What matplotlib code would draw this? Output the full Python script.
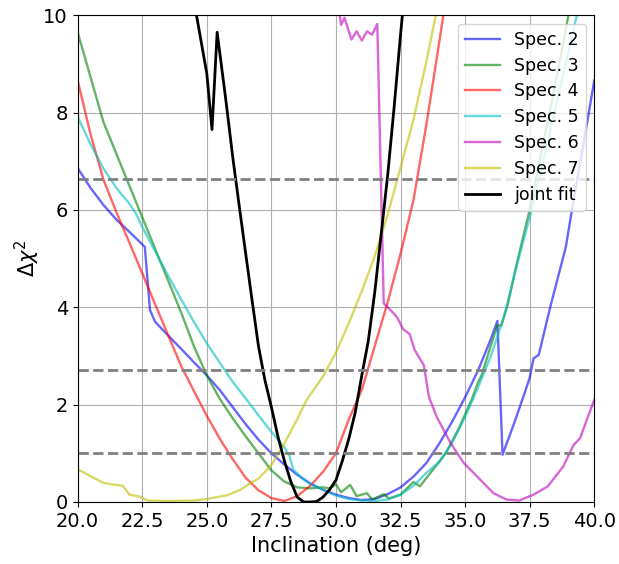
import matplotlib
matplotlib.use("Agg")
import matplotlib.pyplot as plt

# Spec. 2 (blue)
x2 = [20, 20.5, 21, 21.5, 22, 22.6, 22.8, 23.0, 23.5, 24, 24.5, 25, 25.5, 26, 26.5, 27, 27.5,
      28, 28.5, 29, 29.5, 30, 30.5, 31, 31.5, 32, 32.5, 33, 33.5, 34, 34.5, 35, 35.5, 36,
      36.25, 36.45, 36.9, 37.3, 37.5, 37.65, 37.85, 38.3, 38.9, 39.2, 39.6, 40]
y2 = [6.86, 6.45, 6.1, 5.8, 5.55, 5.24, 3.94, 3.7, 3.42, 3.15, 2.87, 2.6, 2.3, 1.95, 1.6, 1.28, 1.0,
      0.77, 0.56, 0.38, 0.25, 0.15, 0.08, 0.04, 0.06, 0.16, 0.3, 0.52, 0.8, 1.2, 1.65, 2.15, 2.7, 3.35,
      3.72, 0.97, 1.62, 2.23, 2.55, 2.95, 3.02, 4.01, 5.24, 6.2, 7.4, 8.66]

# Spec. 3 (green)
x3 = [20, 21, 23, 24, 24.5, 25, 25.5, 26, 26.5, 27, 27.5, 28, 28.5, 29, 29.5, 29.75, 30.0, 30.2,
      30.55, 30.8, 31.2, 31.4, 31.85, 32.05, 32.5, 33.0, 33.25, 33.75, 34.25, 34.75, 35.25, 35.5,
      35.65, 36.0, 36.25, 36.4, 36.65, 37.0, 37.5, 38.0, 38.5, 39.0, 39.5]
y3 = [9.65, 7.8, 5.2, 3.9, 3.2, 2.6, 2.12, 1.72, 1.35, 1.0, 0.65, 0.42, 0.3, 0.28, 0.3, 0.28, 0.36, 0.2,
      0.35, 0.12, 0.18, 0.05, 0.16, 0.07, 0.15, 0.41, 0.32, 0.66, 1.0, 1.5, 2.1, 2.45,
      2.62, 3.22, 3.63, 3.62, 4.05, 4.9, 6.0, 7.3, 8.6, 10.0, 11.3]

# Spec. 4 (red)
x4 = [20, 20.5, 21, 21.5, 22, 22.5, 23, 23.5, 24, 24.5, 25, 25.5, 26, 26.5, 27, 27.5, 28, 28.5,
      29, 29.5, 30, 30.5, 31, 31.5, 32, 32.5, 33, 33.5, 34, 34.5]
y4 = [8.66, 7.55, 6.62, 5.95, 5.33, 4.7, 4.06, 3.43, 2.8, 2.28, 1.77, 1.3, 0.88, 0.5, 0.24, 0.08, 0.02, 0.12,
      0.33, 0.62, 1.0, 1.7, 2.3, 3.2, 4.1, 5.1, 6.2, 7.75, 9.45, 11.2]

# Spec. 5 (cyan)
x5 = [20, 20.5, 21, 21.5, 22, 22.25, 22.5, 23, 23.5, 24, 24.5, 25, 25.5, 26, 26.5, 27, 27.5, 28,
      28.2, 28.35, 28.75, 29, 29.5, 30, 30.5, 31, 31.5, 32, 32.5, 33, 33.5, 34, 34.5, 35, 35.5,
      36, 36.5, 37, 37.5, 38, 38.5, 39, 39.5]
y5 = [7.91, 7.35, 6.85, 6.45, 6.13, 5.93, 5.65, 5.15, 4.65, 4.17, 3.7, 3.26, 2.86, 2.47, 2.13, 1.78, 1.44, 1.12,
      0.95, 0.66, 0.46, 0.37, 0.25, 0.13, 0.06, 0.03, 0.02, 0.05, 0.15, 0.33, 0.6, 0.82, 1.22, 1.75, 2.35,
      3.0, 3.8, 4.85, 5.85, 6.95, 8.1, 9.25, 10.4]

# Spec. 6 (magenta)
x6 = [30.0, 30.2, 30.33, 30.6, 30.8, 31.0, 31.2, 31.4, 31.6, 31.85, 32.1, 32.36, 32.6, 32.85, 33.05,
      33.4, 33.6, 33.9, 34.2, 34.45, 34.95, 35.47, 36.1, 36.6, 37.1, 37.65, 38.2, 38.8, 39.2, 39.45, 40.0]
y6 = [10.5, 9.8, 9.95, 9.5, 9.67, 9.48, 9.67, 9.6, 9.82, 4.08, 3.95, 3.8, 3.55, 3.45, 3.12,
      2.81, 2.16, 1.75, 1.45, 1.2, 0.8, 0.52, 0.18, 0.05, 0.03, 0.15, 0.32, 0.73, 1.17, 1.31, 2.1]

# Spec. 7 (yellow)
x7 = [20, 21, 21.75, 22.0, 22.4, 22.7, 23.5, 24.5, 25.0, 25.4, 25.8, 26.3, 26.7, 27.0, 27.5, 28.0,
      28.5, 28.85, 29.0, 29.5, 30.0, 30.5, 31.0, 31.5, 32.0, 32.5, 33.0, 33.5, 34.0]
y7 = [0.67, 0.39, 0.33, 0.15, 0.11, 0.03, 0.02, 0.03, 0.06, 0.1, 0.14, 0.25, 0.39, 0.48, 0.76, 1.2,
      1.7, 2.08, 2.2, 2.58, 3.07, 3.68, 4.33, 5.05, 5.9, 6.87, 7.85, 9.05, 10.35]

# joint fit (black)
xj = [24.4, 24.6, 25.0, 25.2, 25.4, 25.75, 26.0, 26.25, 26.5, 26.75, 27.0, 27.25, 27.5, 27.75, 28.0,
      28.25, 28.5, 28.75, 29.0, 29.25, 29.5, 29.75, 30.0, 30.25, 30.5, 30.75, 31.0, 31.25, 31.5,
      31.75, 32.0, 32.25, 32.5, 32.75]
yj = [10.9, 10.0, 8.8, 7.65, 9.65, 8.2, 7.1, 6.1, 5.12, 4.15, 3.2, 2.5, 1.95, 1.35, 0.85,
      0.42, 0.1, 0.0, 0.0, 0.01, 0.1, 0.25, 0.45, 0.85, 1.3, 1.85, 2.6, 3.3, 4.3,
      5.5, 6.7, 8.1, 9.6, 11.0]

series = [(x2, y2, 'b', 'Spec. 2'), (x3, y3, 'g', 'Spec. 3'), (x4, y4, 'r', 'Spec. 4'),
          (x5, y5, 'c', 'Spec. 5'), (x6, y6, 'm', 'Spec. 6'), (x7, y7, 'y', 'Spec. 7')]
levels = [1.0, 2.71, 6.63]

fig = plt.figure(figsize=(6.19, 5.64), dpi=100)
ax = fig.add_axes([0.1255, 0.11, 0.8345, 0.863])
for x, y, c, lab in series:
    ax.plot(x, y, color=c, alpha=0.6, lw=1.7, label=lab)
ax.plot(xj, yj, color='k', lw=2, label='joint fit')
for lv in levels:
    ax.axhline(lv, color='gray', ls='--', lw=2)
ax.set_xlim(20, 40)
ax.set_ylim(0, 10)
ax.set_xticks([20, 22.5, 25, 27.5, 30, 32.5, 35, 37.5, 40])
ax.set_yticks([0, 2, 4, 6, 8, 10])
ax.tick_params(labelsize=14)
ax.grid(True, color='#b0b0b0')
ax.set_xlabel('Inclination (deg)', fontsize=15)
ax.set_ylabel(r'$\Delta\chi^2$', fontsize=15, labelpad=1)
ax.legend(loc='upper right', fontsize=12.5, labelspacing=0.45)
fig.savefig('out.png', dpi=100)
